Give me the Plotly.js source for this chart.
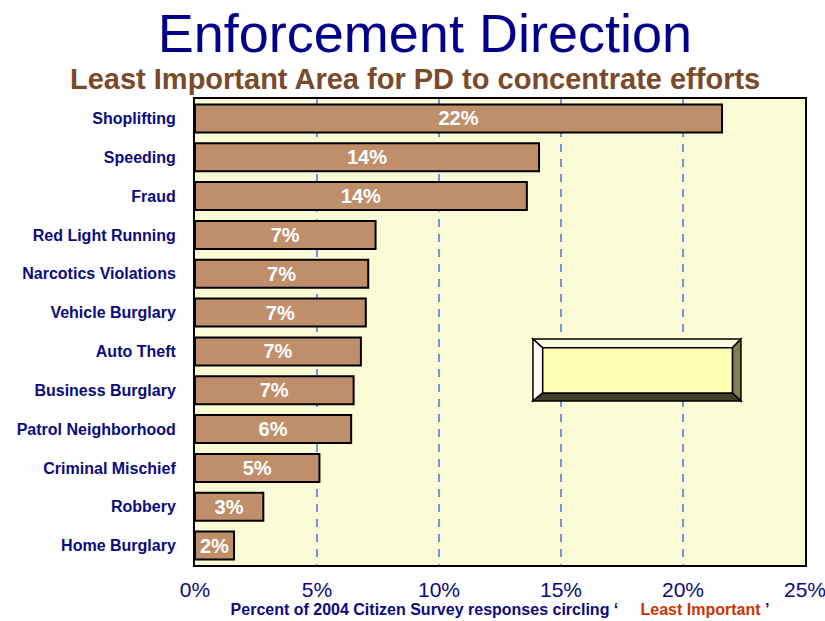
<!DOCTYPE html>
<html>
<head>
<meta charset="utf-8">
<script src="https://cdn.plot.ly/plotly-3.0.1.min.js"></script>
<style>
  body { margin: 0; background: #fff; }
  #chart { width: 825px; height: 621px; }
</style>
</head>
<body>
<div id="chart"></div>
<script>
// categories top to bottom
var categories = ['Shoplifting', 'Speeding', 'Fraud', 'Red Light Running', 'Narcotics Violations',
  'Vehicle Burglary', 'Auto Theft', 'Business Burglary', 'Patrol Neighborhood',
  'Criminal Mischief', 'Robbery', 'Home Burglary'];
// percent of responses
var percents = [21.6, 14.1, 13.6, 7.4, 7.1, 7.0, 6.8, 6.5, 6.4, 5.1, 2.8, 1.6];
var xTicks = [0, 5, 10, 15, 20, 25];

var navy = '#0a0a80';
var font = 'Arial, "Liberation Sans", sans-serif';

var data = [{
  type: 'bar',
  orientation: 'h',
  y: categories,
  x: percents,
  texttemplate: '%{x:.0f}%',
  textposition: 'inside',
  insidetextanchor: 'middle',
  constraintext: 'none',
  textfont: { family: font, size: 20, color: '#ffffff', weight: 'bold' },
  marker: { color: '#bf8e6a', line: { color: '#000000', width: 2 } },
  hoverinfo: 'none'
}];

// bevelled box drawn in paper coords
var ox0 = 0.554, ox1 = 0.895, oy0 = 0.352, oy1 = 0.485;
var ix0 = 0.570, ix1 = 0.881, iy0 = 0.369, iy1 = 0.466;
function poly(pts) {
  return 'M' + pts.map(function (p) { return p[0] + ',' + p[1]; }).join(' L') + ' Z';
}
var bevel = [
  { path: poly([[ox0, oy1], [ox1, oy1], [ix1, iy1], [ix0, iy1]]), fill: '#fdfde4' },
  { path: poly([[ox0, oy1], [ix0, iy1], [ix0, iy0], [ox0, oy0]]), fill: '#fffff2' },
  { path: poly([[ox1, oy1], [ox1, oy0], [ix1, iy0], [ix1, iy1]]), fill: '#7f7f55' },
  { path: poly([[ox0, oy0], [ix0, iy0], [ix1, iy0], [ox1, oy0]]), fill: '#3f3f2a' },
  { path: poly([[ix0, iy0], [ix1, iy0], [ix1, iy1], [ix0, iy1]]), fill: '#ffffb3' }
];
var shapes = bevel.map(function (b) {
  return {
    type: 'path', xref: 'paper', yref: 'paper', path: b.path,
    fillcolor: b.fill, line: { color: '#000000', width: 1.5 }, layer: 'above'
  };
});

var layout = {
  width: 825,
  height: 621,
  margin: { l: 195, r: 20, t: 99, b: 56 },
  paper_bgcolor: '#ffffff',
  plot_bgcolor: '#fbfbd6',
  showlegend: false,
  bargap: 0.28,
  font: { family: font, color: navy },
  title: {
    text: 'Enforcement Direction',
    font: { family: font, size: 54, color: '#00008b' },
    x: 0.515, xanchor: 'center',
    y: 0.946, yanchor: 'middle', yref: 'container'
  },
  annotations: [{
    text: 'Least Important Area for PD to concentrate efforts',
    xref: 'paper', yref: 'paper', x: 0.36, y: 1.043,
    xanchor: 'center', yanchor: 'middle', showarrow: false,
    font: { family: font, size: 29, color: '#7a4a2a', weight: 'bold' }
  }],
  xaxis: {
    range: [0, 25],
    tickvals: xTicks,
    ticktext: xTicks.map(function (v) { return v + '%'; }),
    tickfont: { family: font, size: 21, color: navy },
    ticklabeloverflow: 'allow',
    showgrid: true,
    gridcolor: '#7393e3',
    griddash: '8px,7px',
    gridwidth: 1.5,
    zeroline: false,
    showline: true, mirror: true, linecolor: '#000000', linewidth: 2,
    ticks: '',
    ticklabelstandoff: 5,
    title: {
      text: 'Percent of 2004 Citizen Survey responses circling \u2018 &nbsp;&nbsp;&nbsp;&nbsp;<span style="color:#cc3300">Least Important</span> \u2019',
      font: { family: font, size: 16, color: navy, weight: 'bold' },
      standoff: 2
    },
    fixedrange: true
  },
  yaxis: {
    type: 'category',
    autorange: 'reversed',
    tickfont: { family: font, size: 16, color: navy, weight: 'bold' },
    showgrid: false,
    zeroline: false,
    showline: true, mirror: true, linecolor: '#000000', linewidth: 2,
    ticks: '',
    ticklabelstandoff: 14,
    fixedrange: true
  },
  shapes: shapes
};

Plotly.newPlot('chart', data, layout, { displayModeBar: false, staticPlot: true });
</script>
</body>
</html>
